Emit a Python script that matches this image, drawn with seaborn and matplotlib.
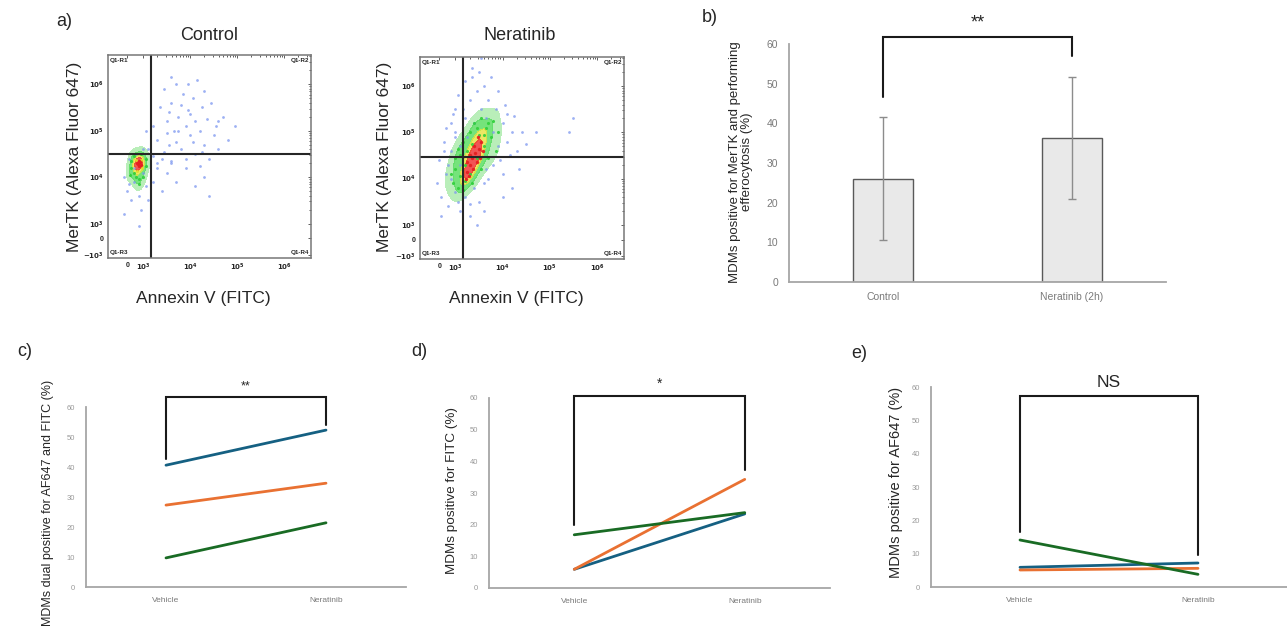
import numpy as np
import pandas as pd
import matplotlib
matplotlib.use("Agg")
import matplotlib.pyplot as plt
from matplotlib.colors import ListedColormap
import seaborn as sns

sns.set_style("white")
plt.rcParams['font.family'] = ['Liberation Sans', 'DejaVu Sans']

# ---------------- data ----------------
# flow cytometry events (display units: decades of the biexponential axis)
ctrl_blue = [(3.1,4.6),(3.2,5.1),(3.3,4.8),(3.35,5.5),(3.4,4.4),(3.45,5.9),(3.5,5.2),(3.55,4.7),
             (3.6,5.6),(3.6,4.35),(3.65,5.0),(3.7,6.0),(3.75,5.3),(3.8,4.6),(3.85,5.8),(3.9,5.1),
             (3.9,4.4),(3.95,5.45),(4.0,4.9),(4.05,5.7),(4.1,5.2),(4.1,4.5),(4.15,6.1),(4.2,5.0),
             (4.25,5.5),(4.3,4.7),(4.35,5.25),(4.4,4.4),(4.45,5.6),(4.5,4.9),(4.55,5.1),(4.6,4.6),
             (4.7,5.3),(4.8,4.8),(4.95,5.1),(3.3,4.3),(3.5,4.95),(3.7,4.75),(4.0,5.35),(4.2,4.25),
             (3.2,4.45),(3.05,5.0),(3.8,5.55),(4.3,5.85),(3.6,6.15),(3.3,4.2),(3.5,4.1),(3.7,3.9),
             (3.9,4.2),(4.1,3.8),(4.3,4.0),(3.4,3.7),(3.6,4.3),(4.4,3.6),(3.2,3.9),(2.6,4.0),
             (2.65,3.7),(2.7,4.4),(2.75,3.5),(2.8,3.9),(2.85,4.5),(2.9,3.6),(2.95,3.3),(3.0,4.6),
             (3.05,3.8),(2.6,3.2),(2.9,2.95),(2.8,4.2),(3.0,4.1),(2.7,3.85),(3.1,3.5),(3.45,4.55),
             (3.75,5.0),(4.05,4.75),(3.95,6.0),(3.55,5.4),(4.6,5.2),(4.25,4.55)]
ctrl_green = [(2.75,4.2),(2.8,4.45),(2.85,4.0),(2.95,4.5),(3.05,4.25),(3.0,4.0),(2.8,4.1),
              (2.9,3.85),(3.05,4.4),(2.75,4.35),(2.9,3.95),(2.72,4.05)]
ctrl_yellow = [(2.85,4.38),(2.98,4.2),(2.86,4.14),(2.96,4.38)]
ctrl_red = [(2.88,4.28),(2.93,4.32),(2.9,4.24),(2.95,4.27),(2.86,4.3),(2.91,4.34)]

ner_blue = [(2.6,3.9),(2.65,4.4),(2.7,3.6),(2.75,4.8),(2.8,4.1),(2.8,5.1),(2.85,3.4),(2.9,4.6),
            (2.95,5.4),(3.0,3.7),(3.0,5.0),(3.05,5.8),(3.1,3.3),(3.1,4.3),(3.15,5.5),(3.2,6.1),
            (3.2,3.6),(3.25,4.9),(3.3,5.7),(3.3,3.45),(3.35,6.4),(3.4,5.2),(3.4,3.8),(3.45,5.9),
            (3.5,6.3),(3.5,3.5),(3.55,5.5),(3.6,6.0),(3.6,3.9),(3.65,5.3),(3.7,5.7),(3.7,4.0),
            (3.75,6.2),(3.8,5.0),(3.8,4.3),(3.85,5.5),(3.9,4.7),(3.9,5.9),(3.95,4.4),(4.0,5.2),
            (4.0,4.1),(4.05,5.6),(4.1,4.8),(4.15,4.5),(4.2,5.0),(4.25,5.35),(4.3,4.6),(4.35,4.2),
            (4.4,5.0),(4.5,4.75),(4.7,5.0),(5.5,5.3),(5.4,5.0),(3.0,4.9),(2.75,4.6),(2.9,4.0),
            (3.1,4.7),(3.3,3.2),(3.6,3.3),(4.0,3.6),(4.2,3.8),(2.7,3.2),(3.45,3.0),(3.2,5.3),
            (3.0,5.5),(2.9,5.2),(3.55,6.6),(3.35,6.2),(2.85,4.3),(3.05,3.5),(3.65,4.2),(4.1,5.4)]
ner_green = [(2.95,3.9),(3.0,4.2),(3.05,3.8),(3.1,4.5),(3.1,4.05),(3.15,4.8),(3.2,3.95),(3.2,4.3),
             (3.25,4.6),(3.3,5.0),(3.3,4.1),(3.35,4.75),(3.4,5.2),(3.45,4.45),(3.5,4.95),(3.55,5.3),
             (3.55,4.2),(3.6,4.7),(3.65,5.1),(3.7,4.45),(3.75,4.9),(3.8,5.25),(3.85,4.6),(3.9,5.0),
             (3.0,4.45),(3.15,3.75),(3.45,5.1),(3.7,5.2),(2.9,4.1),(3.35,3.9),(3.6,4.95),(3.05,4.65)]
ner_red = [(3.22,4.0),(3.25,4.15),(3.3,4.3),(3.28,4.05),(3.35,4.45),(3.38,4.2),(3.42,4.55),
           (3.45,4.35),(3.5,4.65),(3.52,4.45),(3.55,4.8),(3.58,4.6),(3.3,4.5),(3.4,4.7),
           (3.25,4.35),(3.47,4.9)]

flow_titles = ["Control", "Neratinib"]
flow_gates = [(3.17, 4.49), (3.17, 4.47)]
flow_xticks = [2.66, 3, 4, 5, 6]
flow_xlabels = ["0", "$10^3$", "$10^4$", "$10^5$", "$10^6$"]
flow_yticks = [6, 5, 4, 3, 2.68, 2.32]
flow_ylabels = ["$10^6$", "$10^5$", "$10^4$", "$10^3$", "0", "$-10^3$"]

# panel b
bar_groups = ["Control", "Neratinib (2h)"]
bar_means = [26.0, 36.3]
bar_sd = [15.5, 15.4]

# panels c-e
conditions = ["Vehicle", "Neratinib"]
donors = ["Donor 1", "Donor 2", "Donor 3"]
dual_af647_fitc = [[40.6, 52.3], [27.3, 34.6], [9.7, 21.4]]
pos_fitc = [[5.9, 23.4], [5.9, 34.3], [16.8, 23.8]]
pos_af647 = [[5.9, 7.2], [5.1, 5.6], [14.1, 3.8]]
donor_colors = ["#156082", "#E97132", "#196B24"]

# ---------------- figure ----------------
W, H = 1287, 630
fig = plt.figure(figsize=(W / 100, H / 100), dpi=100)
plt.rcParams['mathtext.default'] = 'bf'


def px_axes(l, t, r, b):
    return fig.add_axes([l / W, 1 - b / H, (r - l) / W, (b - t) / H])


def ftxt(x, y, s, **kw):
    fig.text(x / W, 1 - y / H, s, **kw)


density_cmap = ListedColormap(["#a8eaa8", "#52dc5a", "#e6e23c", "#ef2b2b"])


def flow_panel(ax, blue, green, yellow, red, gate, bw):
    core = pd.DataFrame(green + yellow + red, columns=["x", "y"])
    sns.kdeplot(data=core, x="x", y="y", fill=True, levels=[0.08, 0.3, 0.6, 0.8, 1.0],
                cmap=density_cmap, bw_adjust=bw, alpha=0.8, ax=ax)
    layers = [(blue, "#7d97f0", 4, 0.75), (green, "#2fcf3a", 5, 0.9),
              (yellow, "#e0dc2a", 5, 0.9), (red, "#e52020", 6, 0.95)]
    for pts, col, size, a in layers:
        if not pts:
            continue
        df = pd.DataFrame(pts, columns=["x", "y"])
        sns.scatterplot(data=df, x="x", y="y", color=col, s=size, linewidth=0,
                        alpha=a, ax=ax, legend=False)
    ax.axvline(gate[0], color="#262626", lw=1.5)
    ax.axhline(gate[1], color="#262626", lw=1.5)
    ax.set_xlim(2.25, 6.57)
    ax.set_ylim(2.26, 6.63)
    ax.set_xticks(flow_xticks)
    ax.set_xticklabels(flow_xlabels, fontsize=5, fontweight="bold")
    ax.set_yticks(flow_yticks)
    ax.set_yticklabels(flow_ylabels, fontsize=5, fontweight="bold")
    minor = [n + np.log10(k) for n in range(3, 7) for k in range(2, 10)]
    ax.set_xticks([m for m in minor if m < 6.57], minor=True)
    ax.set_yticks([m for m in minor if m < 6.63], minor=True)
    ax.tick_params(which="both", direction="in", top=True, right=True,
                   length=2, width=0.6, color="#444", pad=3)
    ax.tick_params(which="minor", length=1.2)
    for s in ax.spines.values():
        s.set_color("#777777")
        s.set_linewidth(1.1)
        s.set_visible(True)
    ax.set_xlabel("")
    ax.set_ylabel("")
    kw = dict(fontsize=4.5, fontweight="bold", transform=ax.transAxes)
    ax.text(0.01, 0.985, "Q1-R1", ha="left", va="top", **kw)
    ax.text(0.99, 0.985, "Q1-R2", ha="right", va="top", **kw)
    ax.text(0.01, 0.015, "Q1-R3", ha="left", va="bottom", **kw)
    ax.text(0.99, 0.015, "Q1-R4", ha="right", va="bottom", **kw)


ax_a1 = px_axes(108, 55, 311, 258)
flow_panel(ax_a1, ctrl_blue, ctrl_green, ctrl_yellow, ctrl_red, flow_gates[0], 1.25)
ax_a2 = px_axes(420, 57, 624, 259)
flow_panel(ax_a2, ner_blue, ner_green, [], ner_red, flow_gates[1], 1.05)

ftxt(209, 36, flow_titles[0], fontsize=13, ha="center", va="center")
ftxt(520, 36, flow_titles[1], fontsize=13, ha="center", va="center")
for xc, yc in [(74, 157), (385, 157)]:
    ftxt(xc, yc, "MerTK (Alexa Fluor 647)", fontsize=12.5, rotation=90,
         ha="center", va="center")
for xc in [203, 516]:
    ftxt(xc, 298, "Annexin V (FITC)", fontsize=12.5, ha="center", va="center")


def simple_axes_style(ax, tick_fs, ytick_color, xtick_fs):
    sns.despine(ax=ax)
    for s in ["left", "bottom"]:
        ax.spines[s].set_color("#a6a6a6")
        ax.spines[s].set_linewidth(1.3)
    ax.tick_params(length=0)
    ax.set_ylim(0, 60)
    ax.set_yticks(range(0, 61, 10))
    ax.tick_params(axis="y", labelsize=tick_fs, labelcolor=ytick_color, pad=8)
    ax.tick_params(axis="x", labelsize=xtick_fs, labelcolor="#7a7a7a", pad=7)
    ax.set_xlim(-0.5, 1.5)
    ax.set_xlabel("")
    ax.set_ylabel("")


def bracket(ax, y_left, y_top, y_right, label, ly, fs, lw=1.5):
    ax.plot([0, 0, 1, 1], [y_left, y_top, y_top, y_right], color="#1a1a1a",
            lw=lw, clip_on=False, solid_joinstyle="miter")
    ax.text(0.5, ly, label, ha="center", va="center", fontsize=fs, clip_on=False)


# panel b
ax_b = px_axes(789, 44, 1166, 282)
sns.barplot(x=bar_groups, y=bar_means, color="#e9e9e9", saturation=1,
            edgecolor="#595959", linewidth=1.0, width=0.32, errorbar=None, ax=ax_b)
ax_b.errorbar(x=[0, 1], y=bar_means, yerr=bar_sd, fmt="none", ecolor="#8c8c8c",
              elinewidth=1.0, capsize=3, capthick=1.0)
simple_axes_style(ax_b, 7.5, "#7a7a7a", 7.5)
bracket(ax_b, 46.6, 61.8, 57.0, "**", 65.3, 13)
ftxt(741, 162, "MDMs positive for MerTK and performing\nefferocytosis (%)",
     fontsize=9.5, rotation=90, ha="center", va="center", linespacing=1.1)


def line_panel(ax, values):
    rows = []
    for d, vals in zip(donors, values):
        for c, v in zip(conditions, vals):
            rows.append({"condition": c, "donor": d, "value": v})
    df = pd.DataFrame(rows)
    sns.lineplot(data=df, x="condition", y="value", hue="donor",
                 palette=donor_colors, lw=2.0, sort=False, legend=False, ax=ax)
    simple_axes_style(ax, 5.5, "#9a9a9a", 6)


ax_c = px_axes(86, 407, 406, 587)
line_panel(ax_c, dual_af647_fitc)
bracket(ax_c, 42.7, 63.3, 54.0, "**", 67.0, 9)
ftxt(48, 503, "MDMs dual positive for AF647 and FITC (%)", fontsize=9.0,
     rotation=90, ha="center", va="center")

ax_d = px_axes(489, 398, 830, 588)
line_panel(ax_d, pos_fitc)
bracket(ax_d, 19.9, 60.6, 37.3, "*", 64.5, 10)
ftxt(452, 491, "MDMs positive for FITC (%)", fontsize=9.7, rotation=90,
     ha="center", va="center")

ax_e = px_axes(931, 387, 1287, 587)
line_panel(ax_e, pos_af647)
bracket(ax_e, 16.6, 57.3, 9.6, "NS", 61.3, 12.5)
ftxt(896, 482, "MDMs positive for AF647 (%)", fontsize=10.5, rotation=90,
     ha="center", va="center")

# panel letters
ftxt(64, 21, "a)", fontsize=13, ha="center", va="center")
ftxt(710, 18, "b)", fontsize=13, ha="center", va="center")
ftxt(25, 352, "c)", fontsize=13, ha="center", va="center")
ftxt(419, 352, "d)", fontsize=13, ha="center", va="center")
ftxt(859, 353, "e)", fontsize=13, ha="center", va="center")

fig.savefig("out.png", dpi=100)
